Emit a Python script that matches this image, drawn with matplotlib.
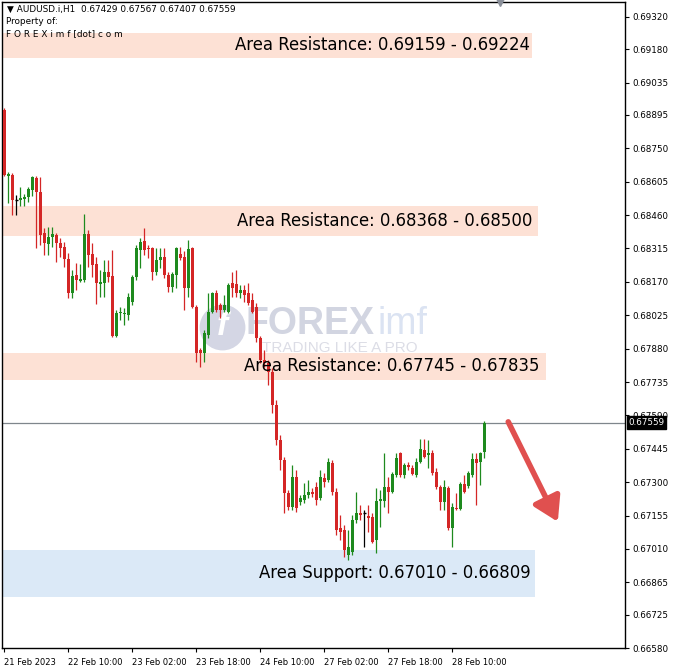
import matplotlib
matplotlib.use("Agg")
import matplotlib.pyplot as plt
import matplotlib.transforms as mtransforms

# ---------------- data ----------------
symbol_header = "\u25BC AUDUSD.i,H1  0.67429 0.67567 0.67407 0.67559"

opens = [0.68916, 0.68630, 0.68634, 0.68526, 0.68526, 0.68530, 0.68539, 0.68569, 0.68621, 0.68560,
         0.68382, 0.68335, 0.68365, 0.68374, 0.68339, 0.68322, 0.68269, 0.68122, 0.68200, 0.68174,
         0.68178, 0.68378, 0.68291, 0.68248, 0.68161, 0.68165, 0.68213, 0.68196, 0.67935, 0.68035,
         0.68031, 0.68026, 0.68083, 0.68191, 0.68309, 0.68348, 0.68317, 0.68317, 0.68213, 0.68265,
         0.68278, 0.68200, 0.68148, 0.68200, 0.68291, 0.68278, 0.68143, 0.68317, 0.68061, 0.67874,
         0.67861, 0.67939, 0.68039, 0.68122, 0.68070, 0.68048, 0.68039, 0.68165, 0.68161, 0.68122,
         0.68135, 0.68122, 0.68091, 0.68061, 0.67926, 0.67831, 0.67818, 0.67779, 0.67635, 0.67484,
         0.67397, 0.67253, 0.67193, 0.67323, 0.67214, 0.67223, 0.67245, 0.67258, 0.67279, 0.67232,
         0.67319, 0.67310, 0.67384, 0.67258, 0.67101, 0.67093, 0.66984, 0.66997, 0.67136, 0.67167,
         0.67167, 0.67154, 0.67149, 0.67049, 0.67219, 0.67219, 0.67279, 0.67258, 0.67332, 0.67427,
         0.67332, 0.67375, 0.67362, 0.67332, 0.67388, 0.67440, 0.67418, 0.67427, 0.67345, 0.67279,
         0.67214, 0.67275, 0.67101, 0.67188, 0.67184, 0.67292, 0.67284, 0.67332, 0.67401, 0.67388,
         0.67429]
highs = [0.68925, 0.68647, 0.68643, 0.68547, 0.68582, 0.68552, 0.68582, 0.68630, 0.68630, 0.68626,
         0.68404, 0.68408, 0.68408, 0.68382, 0.68361, 0.68343, 0.68295, 0.68222, 0.68252, 0.68248,
         0.68465, 0.68395, 0.68339, 0.68278, 0.68222, 0.68265, 0.68265, 0.68309, 0.68048, 0.68061,
         0.68057, 0.68122, 0.68200, 0.68330, 0.68361, 0.68404, 0.68330, 0.68322, 0.68317, 0.68317,
         0.68317, 0.68213, 0.68213, 0.68322, 0.68322, 0.68304, 0.68352, 0.68322, 0.68070, 0.67883,
         0.67961, 0.68122, 0.68126, 0.68135, 0.68078, 0.68113, 0.68165, 0.68213, 0.68222, 0.68157,
         0.68157, 0.68165, 0.68122, 0.68078, 0.67935, 0.67874, 0.67831, 0.67796, 0.67657, 0.67505,
         0.67410, 0.67266, 0.67375, 0.67353, 0.67245, 0.67297, 0.67310, 0.67275, 0.67301, 0.67353,
         0.67340, 0.67405, 0.67397, 0.67275, 0.67158, 0.67114, 0.67093, 0.67158, 0.67258, 0.67201,
         0.67180, 0.67201, 0.67167, 0.67275, 0.67266, 0.67427, 0.67323, 0.67345, 0.67427, 0.67431,
         0.67384, 0.67388, 0.67375, 0.67405, 0.67488, 0.67488, 0.67484, 0.67440, 0.67362, 0.67288,
         0.67310, 0.67284, 0.67210, 0.67253, 0.67301, 0.67332, 0.67349, 0.67427, 0.67427, 0.67431,
         0.67567]
lows = [0.68630, 0.68513, 0.68460, 0.68460, 0.68500, 0.68500, 0.68517, 0.68543, 0.68317, 0.68330,
        0.68287, 0.68287, 0.68322, 0.68256, 0.68278, 0.68235, 0.68100, 0.68100, 0.68135, 0.68170,
        0.68170, 0.68235, 0.68191, 0.68074, 0.68104, 0.68104, 0.68170, 0.67931, 0.67931, 0.68005,
        0.67983, 0.68005, 0.68070, 0.68178, 0.68230, 0.68287, 0.68274, 0.68178, 0.68200, 0.68230,
        0.68187, 0.68126, 0.68126, 0.68143, 0.68265, 0.68048, 0.68104, 0.68057, 0.67822, 0.67800,
        0.67822, 0.67926, 0.68035, 0.68039, 0.68013, 0.68039, 0.68035, 0.68104, 0.68104, 0.68100,
        0.68083, 0.68070, 0.68035, 0.67909, 0.67818, 0.67800, 0.67722, 0.67601, 0.67462, 0.67353,
        0.67167, 0.67180, 0.67180, 0.67171, 0.67201, 0.67210, 0.67232, 0.67236, 0.67201, 0.67223,
        0.67279, 0.67301, 0.67245, 0.67071, 0.67049, 0.66976, 0.66963, 0.66984, 0.67123, 0.67136,
        0.67019, 0.67084, 0.67036, 0.66993, 0.67106, 0.67193, 0.67167, 0.67253, 0.67323, 0.67323,
        0.67319, 0.67353, 0.67332, 0.67323, 0.67384, 0.67405, 0.67362, 0.67332, 0.67271, 0.67180,
        0.67180, 0.67093, 0.67019, 0.67180, 0.67180, 0.67253, 0.67275, 0.67323, 0.67201, 0.67288,
        0.67407]
closes = [0.68634, 0.68639, 0.68526, 0.68526, 0.68534, 0.68539, 0.68573, 0.68626, 0.68560, 0.68374,
          0.68339, 0.68365, 0.68378, 0.68339, 0.68317, 0.68269, 0.68122, 0.68196, 0.68178, 0.68183,
          0.68378, 0.68287, 0.68243, 0.68165, 0.68170, 0.68213, 0.68191, 0.67935, 0.68035, 0.68039,
          0.68035, 0.68104, 0.68191, 0.68317, 0.68343, 0.68309, 0.68313, 0.68213, 0.68265, 0.68278,
          0.68200, 0.68148, 0.68204, 0.68317, 0.68274, 0.68143, 0.68313, 0.68061, 0.67861, 0.67861,
          0.67948, 0.68039, 0.68122, 0.68048, 0.68048, 0.68070, 0.68157, 0.68143, 0.68122, 0.68135,
          0.68113, 0.68078, 0.68039, 0.67926, 0.67831, 0.67818, 0.67779, 0.67635, 0.67484, 0.67397,
          0.67253, 0.67193, 0.67323, 0.67188, 0.67232, 0.67245, 0.67258, 0.67249, 0.67223, 0.67323,
          0.67301, 0.67388, 0.67258, 0.67093, 0.67084, 0.67006, 0.67019, 0.67136, 0.67167, 0.67158,
          0.67167, 0.67145, 0.67041, 0.67219, 0.67227, 0.67279, 0.67258, 0.67336, 0.67405, 0.67332,
          0.67375, 0.67366, 0.67336, 0.67388, 0.67444, 0.67410, 0.67427, 0.67340, 0.67279, 0.67214,
          0.67279, 0.67101, 0.67193, 0.67184, 0.67292, 0.67258, 0.67340, 0.67401, 0.67384, 0.67427,
          0.67559]

current_price = 0.67559

price_ticks = [0.69320, 0.69180, 0.69035, 0.68895, 0.68750, 0.68605, 0.68460, 0.68315, 0.68170,
               0.68025, 0.67880, 0.67735, 0.67590, 0.67445, 0.67300, 0.67155, 0.67010, 0.66865,
               0.66725, 0.66580]
time_tick_bars = [0, 16, 32, 48, 64, 80, 96, 112]
time_tick_labels = ["21 Feb 2023", "22 Feb 10:00", "23 Feb 02:00", "23 Feb 18:00",
                    "24 Feb 10:00", "27 Feb 02:00", "27 Feb 18:00", "28 Feb 10:00"]

zone_labels = ["Area Resistance: 0.69159 - 0.69224",
               "Area Resistance: 0.68368 - 0.68500",
               "Area Resistance: 0.67745 - 0.67835",
               "Area Support: 0.67010 - 0.66809"]
zone_low = [0.69142, 0.68368, 0.67744, 0.66802]
zone_high = [0.69251, 0.68500, 0.67861, 0.67006]
zone_kind = ["res", "res", "res", "sup"]

arrow_from = (126.0, 0.67562)
arrow_to = (138.4, 0.67128)

# ---------------- figure ----------------
W, H = 676, 670
fig = plt.figure(figsize=(W / 100, H / 100), dpi=100)
fig.patch.set_facecolor("white")
ax_left, ax_right, ax_top, ax_bot = 2, 625, 2, 648
ax = fig.add_axes([ax_left / W, (H - ax_bot) / H, (ax_right - ax_left) / W, (ax_bot - ax_top) / H])

n = len(opens)
ax.set_xlim(-0.6, 155.2)
ax.set_ylim(0.66580, 0.69385)

def fx(px):
    return (px - ax_left) / (ax_right - ax_left)

blend = mtransforms.blended_transform_factory(ax.transAxes, ax.transData)

# zones
zone_right_px = [532, 538, 546, 535]
text_right_px = [530, 532, 540, 531]
for lo, hi, kind, lab, rp, tp in zip(zone_low, zone_high, zone_kind, zone_labels, zone_right_px, text_right_px):
    col = "#fde1d5" if kind == "res" else "#dbe9f7"
    ax.axhspan(lo, hi, xmin=0, xmax=fx(rp), color=col, lw=0, zorder=1)
    ax.text(fx(tp), (lo + hi) / 2, lab, transform=blend, ha="right", va="center",
            fontsize=11.9, color="black", family="DejaVu Sans", zorder=6)

# watermark
wm_y = 0.67974
ax.plot([fx(222)], [wm_y], marker="o", ms=33, color="#d4d6e4", mec="none", transform=blend, zorder=1.5)
ax.text(fx(222), wm_y, "f", transform=blend, ha="center", va="center", fontsize=24,
        fontweight="bold", style="italic", color="white", family="Liberation Sans", zorder=1.6)
ax.text(fx(245), 0.67989, "FOREX", transform=blend, ha="left", va="center", fontsize=27,
        fontweight="bold", color="#d2d5e1", family="Liberation Sans", zorder=1.5)
ax.text(fx(377), 0.67989, "imf", transform=blend, ha="left", va="center", fontsize=27,
        color="#dbe3f2", family="Liberation Sans", zorder=1.5)
ax.text(fx(262), 0.67884, "TRADING LIKE A PRO", transform=blend, ha="left", va="center", fontsize=11,
        color="#dcdde6", family="Liberation Sans", zorder=1.5)

# current price line
ax.axhline(current_price, color="#7f868c", lw=0.9, zorder=2)

# candles
green, red = "#1e8a1e", "#d42626"
for i in range(n):
    o, h, l, c = opens[i], highs[i], lows[i], closes[i]
    if c > o:
        col = green
    elif c < o:
        col = red
    else:
        col = "black"
    ax.vlines(i, min(l, o, c), max(h, o, c), color=col, lw=0.9, zorder=3)
    bh = abs(c - o)
    if bh < 0.00003:
        ax.hlines((o + c) / 2, i - 0.38, i + 0.38, color=col, lw=1.0, zorder=3)
    else:
        ax.bar(i, bh, bottom=min(o, c), width=0.72, color=col, lw=0, zorder=3)

# arrow
ax.annotate("", xy=arrow_to, xytext=arrow_from,
            arrowprops=dict(arrowstyle="-|>,head_length=0.9,head_width=0.55", lw=4.0,
                            color="#e0504f", shrinkA=0, shrinkB=0, mutation_scale=16),
            zorder=5)

# top shift marker
ax.plot([fx(500)], [1.0], marker="v", ms=6, color="#8a8f99", transform=ax.transAxes,
        clip_on=False, zorder=7)

# axes styling
ax.yaxis.tick_right()
ax.set_yticks(price_ticks)
ax.set_yticklabels([f"{v:.5f}" for v in price_ticks])
ax.tick_params(axis="y", direction="out", length=3, width=0.8, pad=2.5, labelsize=6.3, colors="black")
ax.set_xticks(time_tick_bars)
ax.set_xticklabels(time_tick_labels, ha="left")
ax.tick_params(axis="x", direction="out", length=3, width=0.8, pad=4, labelsize=6.0, colors="black")
for sp in ax.spines.values():
    sp.set_color("black")
    sp.set_linewidth(1.0)

# current price box
ax.text(1.006, current_price, f"{current_price:.5f}", transform=blend, ha="left", va="center",
        fontsize=6.3, color="white", clip_on=False, zorder=10,
        bbox=dict(boxstyle="square,pad=0.18", fc="black", ec="black"))

# header texts
fig.text(7 / W, 1 - 9 / H, symbol_header, ha="left", va="center", fontsize=6.4, color="black")
fig.text(6 / W, 1 - 21 / H, "Property of:", ha="left", va="center", fontsize=6.4, color="black")
fig.text(6 / W, 1 - 34 / H, "F O R E X i m f [dot] c o m", ha="left", va="center", fontsize=6.4, color="black")

fig.savefig("out.png", dpi=100, facecolor="white")
